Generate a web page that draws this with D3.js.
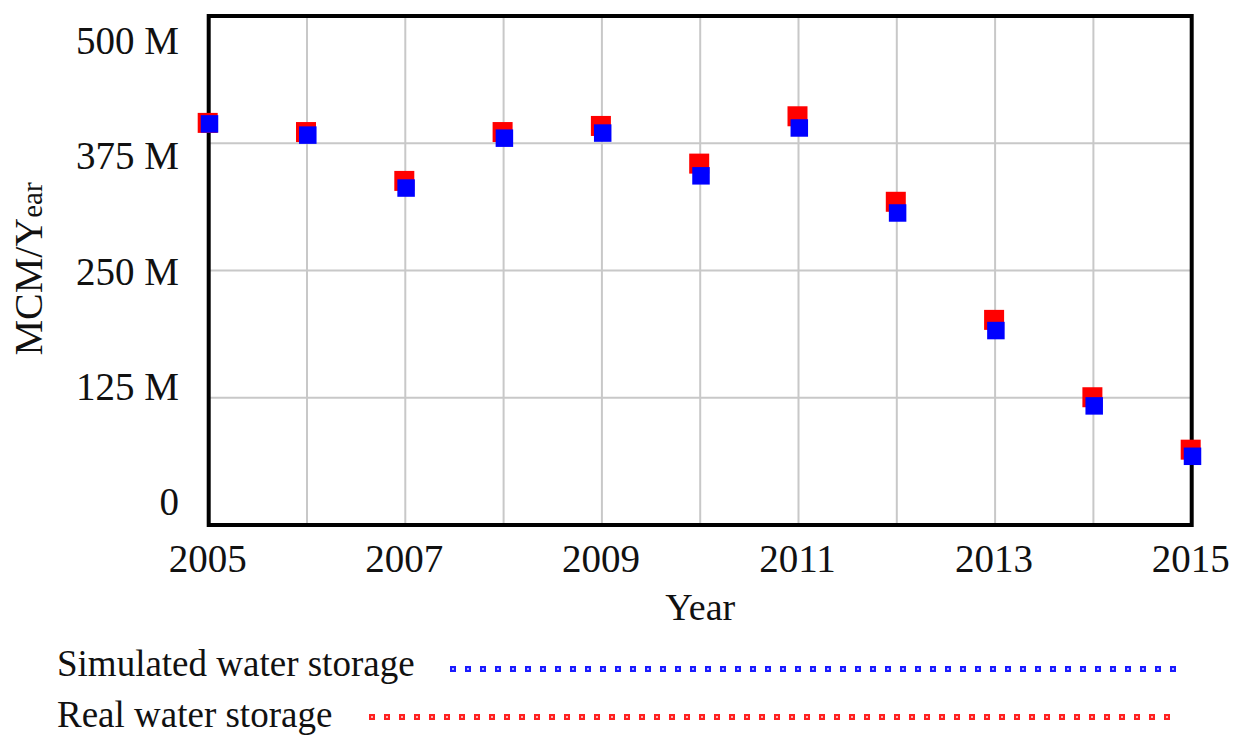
<!DOCTYPE html>
<html><head><meta charset="utf-8">
<script src="https://cdn.jsdelivr.net/npm/d3@7"></script>
<style>body{margin:0;background:#fff;} svg{display:block;}</style>
</head><body>
<svg id="c" width="1243" height="747"></svg>
<script>
const years = [2005,2006,2007,2008,2009,2010,2011,2012,2013,2014,2015];
const realStorage = [395,386,338,386,392,355,401.5,317.5,201.5,125.5,74];
const simulatedStorage = [394,383,331,380,385,343,390,306.5,191,117,67.5];
const yTicks = [0,125,250,375,500];
const yTickLabels = ["0","125 M","250 M","375 M","500 M"];
const xTicks = [2005,2006,2007,2008,2009,2010,2011,2012,2013,2014,2015];
const xTickLabels = ["2005","2007","2009","2011","2013","2015"];
const seriesNames = ["Simulated water storage","Real water storage"];

const svg = d3.select("#c");
const font = "'Liberation Serif','Times New Roman',serif";
const x = d3.scaleLinear().domain([2005,2015]).range([208.7,1191.7]);
const y = d3.scaleLinear().domain([0,500]).range([525,16]);
const yLab = d3.scaleLinear().domain([0,500]).range([515,54]);

// grid
svg.append("g").selectAll("line").data(xTicks).join("line")
  .attr("x1",d=>x(d)).attr("x2",d=>x(d)).attr("y1",y(500)).attr("y2",y(0))
  .attr("stroke","#c8c8c8").attr("stroke-width",2);
svg.append("g").selectAll("line").data(yTicks).join("line")
  .attr("x1",x(2005)).attr("x2",x(2015)).attr("y1",d=>y(d)).attr("y2",d=>y(d))
  .attr("stroke","#c8c8c8").attr("stroke-width",2);

// frame
svg.append("rect").attr("x",x(2005)).attr("y",y(500))
  .attr("width",x(2015)-x(2005)).attr("height",y(0)-y(500))
  .attr("fill","none").attr("stroke","#000").attr("stroke-width",4);

// y tick labels
svg.append("g").selectAll("text").data(yTicks).join("text")
  .attr("x",179).attr("y",d=>yLab(d)).attr("text-anchor","end")
  .attr("font-family",font).attr("font-size",39).attr("fill","#111")
  .text((d,i)=>yTickLabels[i]);

// x tick labels
svg.append("g").selectAll("text").data(xTickLabels).join("text")
  .attr("x",d=>x(+d)-1).attr("y",572).attr("text-anchor","middle")
  .attr("font-family",font).attr("font-size",39).attr("fill","#111")
  .text(d=>d);

// axis titles
svg.append("text").attr("x",(x(2005)+x(2015))/2).attr("y",620).attr("text-anchor","middle")
  .attr("font-family",font).attr("font-size",38).attr("fill","#111").text("Year");
const yt = svg.append("text").attr("transform","translate(42,269) rotate(-90)")
  .attr("text-anchor","middle").attr("font-family",font).attr("fill","#111");
yt.append("tspan").attr("font-size",40).text("MCM/Y");
yt.append("tspan").attr("font-size",29).text("ear");

// markers
const rs = 20, bs = 17.5;
svg.append("g").selectAll("rect").data(years).join("rect")
  .attr("x",(d)=>x(d)-1-rs/2).attr("y",(d,i)=>y(realStorage[i])-rs/2)
  .attr("width",rs).attr("height",rs).attr("fill","#ff0000");
svg.append("g").selectAll("rect").data(years).join("rect")
  .attr("x",(d)=>x(d)+0.8-bs/2).attr("y",(d,i)=>y(simulatedStorage[i])-bs/2)
  .attr("width",bs).attr("height",bs).attr("fill","#0000ff");

// legend
function legendRow(label, color, ty, dy, xStart, xEnd){
  svg.append("text").attr("x",57).attr("y",ty).attr("font-family",font)
    .attr("font-size",37).attr("fill","#111").text(label);
  const pts = d3.range(xEnd, xStart-1, -15);
  const g = svg.append("g");
  g.selectAll("rect.o").data(pts).join("rect").attr("class","o")
    .attr("x",d=>d-3).attr("y",dy-3).attr("width",6).attr("height",6).attr("fill",color);
  g.selectAll("rect.i").data(pts).join("rect").attr("class","i")
    .attr("x",d=>d-0.8).attr("y",dy-0.8).attr("width",1.6).attr("height",1.6).attr("fill","#fff");
}
legendRow(seriesNames[0],"#1a1aff",676,669,449,1173);
legendRow(seriesNames[1],"#ff2020",727,717,371,1167);
</script>
</body></html>
